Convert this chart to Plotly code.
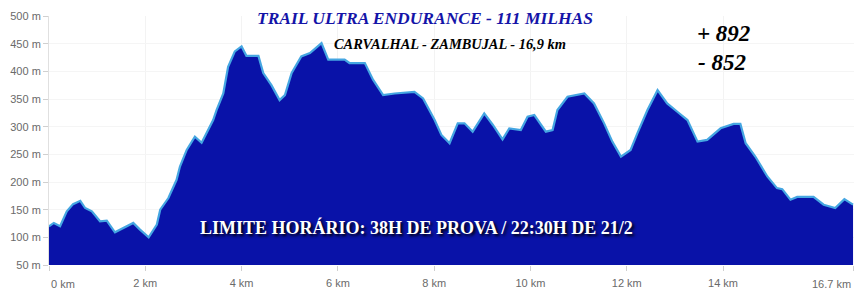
import plotly.graph_objects as go

distance_km = [0, 0.1, 0.23, 0.37, 0.5, 0.65, 0.75, 0.89, 1.06, 1.2, 1.37, 1.51, 1.75, 1.89, 2.07,
               2.24, 2.31, 2.48, 2.65, 2.72, 2.86, 3.03, 3.17, 3.41, 3.48, 3.62, 3.72, 3.86, 4.0,
               4.1, 4.35, 4.45, 4.62, 4.79, 4.9, 5.04, 5.24, 5.42, 5.66, 5.8, 6.14, 6.24, 6.56,
               6.73, 6.94, 7.18, 7.59, 7.77, 8.01, 8.15, 8.32, 8.49, 8.63, 8.8, 9.04, 9.22, 9.42,
               9.56, 9.8, 9.94, 10.08, 10.32, 10.46, 10.56, 10.77, 11.12, 11.32, 11.53, 11.7,
               11.88, 12.08, 12.22, 12.43, 12.64, 12.84, 13.05, 13.26, 13.47, 13.67, 13.95,
               14.22, 14.36, 14.47, 14.67, 14.92, 15.12, 15.23, 15.4, 15.54, 15.88, 16.09,
               16.33, 16.52, 16.7]
elevation_m = [120, 126, 120, 147, 160, 166, 153, 147, 129, 130, 109, 115, 126, 114, 100,
               123, 150, 171, 204, 228, 258, 282, 271, 312, 330, 360, 408, 436, 445,
               428, 428, 397, 375, 348, 357, 397, 427, 433, 451, 421, 421, 415, 415,
               385, 357, 360, 363, 351, 312, 285, 270, 306, 306, 291, 324, 303, 277,
               297, 294, 318, 321, 291, 294, 330, 354, 360, 342, 306, 273,
               246, 258, 288, 330, 366, 342, 327, 312, 273, 276, 297,
               305, 305, 270, 246, 210, 189, 187, 168, 173, 173, 159,
               153, 169, 159]

x_ticks = [0, 2, 4, 6, 8, 10, 12, 14, 16.7]
x_tick_labels = ["0 km", "2 km", "4 km", "6 km", "8 km", "10 km", "12 km", "14 km", "16.7 km"]
y_ticks = [50, 100, 150, 200, 250, 300, 350, 400, 450, 500]
y_tick_labels = [f"{v} m" for v in y_ticks]

title_text = "TRAIL ULTRA ENDURANCE - 111 MILHAS"
subtitle_text = "CARVALHAL - ZAMBUJAL - 16,9 km"
gain_text = "+ 892"
loss_text = "- 852"
limit_text = "LIMITE HORÁRIO: 38H DE PROVA / 22:30H DE 21/2"

fig = go.Figure()
fig.add_trace(go.Scatter(
    x=distance_km, y=elevation_m, mode="lines", fill="tozeroy",
    line=dict(color="#45a6e2", width=2.2), fillcolor="#0912a8",
    hoverinfo="skip", showlegend=False,
))

serif = "Liberation Serif, serif"
tickfont = dict(family="Liberation Sans Narrow, Liberation Sans, sans-serif", size=11, color="#6a6a6a")

# inner tick labels drawn by the axis; the two edge labels are edge-aligned like the reference
axis_text = [""] + x_tick_labels[1:-1] + [""]
edge_labels = [
    dict(text=x_tick_labels[0], xref="x", yref="paper", x=x_ticks[0], y=0, yshift=-19,
         xanchor="left", yanchor="middle", showarrow=False, font=tickfont),
    dict(text=x_tick_labels[-1], xref="x", yref="paper", x=x_ticks[-1], y=0, yshift=-19,
         xanchor="right", yanchor="middle", showarrow=False, font=tickfont),
]

fig.update_layout(
    width=864, height=300,
    margin=dict(l=47, r=10, t=16, b=35),
    paper_bgcolor="white", plot_bgcolor="white",
    xaxis=dict(range=[0, 16.72], tickvals=x_ticks, ticktext=axis_text,
               showgrid=True, gridcolor="#f3f3f3", zeroline=False,
               ticks="outside", ticklen=5, tickcolor="#d0d0d0", tickfont=tickfont,
               ticklabelstandoff=3),
    yaxis=dict(range=[50, 500], tickvals=y_ticks, ticktext=y_tick_labels,
               showgrid=True, gridcolor="#f5f5f5", zeroline=False,
               showline=True, linecolor="#e0e0e0", linewidth=1,
               ticks="outside", ticklen=5, tickcolor="#d0d0d0", tickfont=tickfont),
    annotations=[
        dict(text=f"<b><i>{title_text}</i></b>", xref="paper", yref="paper", x=0.4665, y=0.99,
             xanchor="center", yanchor="middle", showarrow=False,
             font=dict(family=serif, size=17.5, color="#1414a8")),
        dict(text=f"<b><i>{subtitle_text}</i></b>", xref="paper", yref="paper", x=0.498, y=0.8876,
             xanchor="center", yanchor="middle", showarrow=False,
             font=dict(family=serif, size=14.4, color="black")),
        dict(text=f"<b><i>{gain_text}</i></b>", xref="paper", yref="paper", x=0.8377, y=0.9317,
             xanchor="center", yanchor="middle", showarrow=False,
             font=dict(family=serif, size=23, color="black")),
        dict(text=f"<b><i>{loss_text}</i></b>", xref="paper", yref="paper", x=0.8364, y=0.815,
             xanchor="center", yanchor="middle", showarrow=False,
             font=dict(family=serif, size=23, color="black")),
        dict(text=f"<b>{limit_text}</b>", xref="paper", yref="paper", x=0.456, y=0.1486,
             xanchor="center", yanchor="middle", showarrow=False,
             font=dict(family=serif, size=18, color="white",
                       shadow="2px 2px 3px #000")),
    ] + edge_labels,
)

fig.write_html("out.html")
